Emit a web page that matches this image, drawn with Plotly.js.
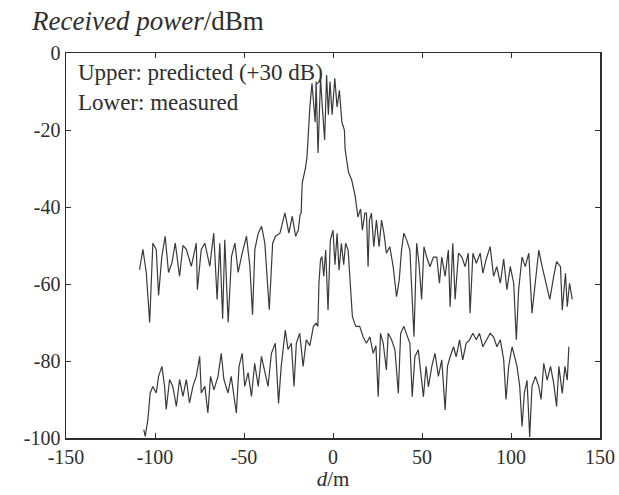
<!DOCTYPE html>
<html>
<head>
<meta charset="utf-8">
<script src="https://cdn.plot.ly/plotly-3.0.1.min.js"></script>
<style>html,body{margin:0;padding:0;background:#fff;}#plot{width:619px;height:495px;}</style>
</head>
<body>
<div id="plot"></div>
<script>
// Upper curve: predicted (+30 dB)
var dUpper = [-108.7,-106.8,-104.9,-103,-101.2,-99.3,-98,-96.2,-94.3,-92.4,-90.5,-88.6,-86.2,-84.3,-82.4,-79.6,-76.8,-76.2,-74,-72,-69.2,-67,-65.1,-63.6,-62,-60.8,-58.9,-57,-55.1,-53.3,-51,-48.6,-46.7,-45.2,-43.9,-42,-40.1,-38.3,-35.8,-33.9,-32.3,-29.8,-27,-24.8,-22.9,-21,-19.5,-18.5,-17.9,-17.3,-15.5,-14.6,-13,-11.8,-10,-9.5,-8.4,-7,-6,-4.7,-3.6,-2.6,-1.7,-0.5,1,2.3,3.6,5,6.4,6.8,8.7,10.5,12.4,14,15.5,16.5,17.9,18.8,19.7,20.5,21.6,22.9,24.4,25.9,27.3,28.6,30,31.9,33.8,35.7,37.2,38.5,39.8,41.4,43.2,45.5,47,48.3,49.8,51.1,52.6,54.5,56.4,58.3,59.8,61.1,63,64.8,65.8,67.3,68.6,70.5,72.4,74.2,76,77,78.6,80.5,82.7,84.2,86.1,88.3,90.2,92,94,95.9,97.7,99.6,101.5,103,104.3,106.2,108,110,111.8,113.7,115.6,117.5,119.4,121.8,124,125.6,127.8,128.8,130.6,131.6,132.9,134.4];
var pUpper = [-56.3,-51,-57,-70,-49.4,-51,-63,-53,-47.6,-57,-54.5,-49.4,-58,-50,-51,-55.4,-49.4,-61.5,-51,-49.4,-55.4,-46.8,-64,-49.4,-69,-48.5,-70,-52.8,-49.4,-57,-52,-47.6,-55.4,-68,-51,-46.8,-45,-49.4,-66.7,-49.4,-47.6,-46.8,-41.5,-46.8,-42.4,-47.6,-46,-42,-41.6,-33.8,-30,-27,-14,-7.9,-18,-7.4,-26,-6.6,-14,-22.6,-5.7,-16,-7.4,-16,-6.6,-14,-9.7,-18,-20,-25,-31,-33,-37,-42.6,-40.5,-46,-41.6,-41.6,-55.5,-43.4,-41.6,-50.3,-43.4,-50.3,-43.4,-46.8,-52,-50.3,-55.5,-63.3,-59,-51.2,-46.8,-48.6,-51.2,-73.7,-49.4,-54.6,-64,-50.3,-53,-55.5,-53,-53,-59.8,-53,-58,-51.2,-65.9,-49.4,-64,-52,-53,-55.5,-52,-67.6,-52,-54.6,-52,-57.2,-53.5,-50.3,-58,-55.5,-59.8,-53.5,-61.5,-55.5,-59.8,-74.5,-61.5,-53,-55.5,-52,-67.6,-59.8,-51.2,-55.5,-59,-64,-58,-54.2,-55.5,-66.8,-57.2,-65.9,-59.8,-64];

// Lower curve: measured
var dLower = [-106.3,-105.5,-104,-102.7,-101.2,-99.3,-98,-96.1,-94.6,-93.7,-91.8,-90,-88,-86.2,-84.3,-82.4,-80.6,-78.7,-76.8,-74.9,-74,-72,-70.3,-68.8,-66.9,-64.6,-62.8,-61.3,-59,-57.2,-54.3,-52.8,-51,-49.6,-47.7,-45.8,-44,-42,-40.2,-38.3,-36.5,-34.6,-32.4,-30.6,-29.1,-26.8,-25.3,-23.4,-21.9,-20.6,-18.7,-16.8,-15,-13,-11,-9.5,-8.5,-7.9,-7,-6.2,-5.2,-4.1,-2.8,-1.5,0,1.1,2.3,3.4,4.7,6,7.1,8.5,9.8,10.9,12.8,15,16.9,18.8,20.7,22.6,24.1,25.4,26.7,28.2,30,31,32.9,34.8,36.7,38,39.8,41.7,43.2,44.5,46,47.9,49.2,50.8,52.3,53.6,55.5,57.3,59.2,61.1,63,64.3,65.8,67.7,69.2,71.1,72.9,74.8,76.7,78.6,80.5,82.3,84.2,86.1,88.3,90.2,92.1,94,95.9,97.2,98.7,100.6,101.9,103.4,104.9,106.2,107.5,109,110.5,111.8,113.7,115.6,116.9,118.4,120.3,122.2,124,125.6,126.9,128.8,130.3,131.6,132.5];
var pLower = [-97.8,-99.6,-95.2,-88.3,-86.6,-88.3,-84,-81.4,-86.6,-92.6,-84.8,-86.6,-91.8,-84.8,-89.2,-84.8,-90.9,-86.6,-84,-78.8,-88.3,-86.6,-93.5,-84,-87.5,-84,-78,-84.8,-88.3,-84,-93.5,-81.4,-78,-86.6,-83,-89.2,-80.6,-86.6,-78.8,-83,-86.6,-78,-75.4,-91,-81.4,-72,-77,-75.4,-86.6,-75.4,-72.8,-81.4,-74.5,-76,-71,-70.2,-71,-59.8,-53.6,-52.9,-58,-51.2,-66.8,-48.6,-46,-55,-46.8,-56.4,-49.4,-55,-49.4,-51.2,-59.8,-68.5,-71,-71,-73.7,-75.4,-73.7,-78,-76,-89.3,-72.8,-75.4,-82.3,-72.8,-74.5,-77.1,-88.4,-72.8,-71,-73.7,-75.4,-89.3,-78.9,-77.1,-83.2,-89.3,-81.4,-86.7,-81.4,-78,-84,-79.7,-92.7,-81.4,-78.9,-76.3,-78.9,-74.5,-79.7,-75.4,-74.5,-72.8,-74.5,-72.8,-76.3,-74.5,-72.8,-73.7,-76.3,-74.5,-79.7,-90,-81.4,-76.3,-78.9,-81.4,-86.6,-97,-88.3,-85,-99.7,-86.6,-84,-86.6,-90,-80.6,-85,-81.4,-85.8,-91.8,-81.4,-88.4,-81.4,-85,-76.3];

var xTicks = [-150,-100,-50,0,50,100,150];
var xTickText = ['-150','-100','-50','0','50','100','150'];
var yTicks = [-100,-80,-60,-40,-20,0];
var yTickText = ['-100','-80','-60','-40','-20','0'];

var FONT = 'Liberation Serif, Times New Roman, serif';
var INK = '#2e2e2e';

var lineStyle = {color: '#3a3a3a', width: 1.2};
var traces = [
  {x: dUpper, y: pUpper, mode: 'lines', line: lineStyle, hoverinfo: 'skip', showlegend: false},
  {x: dLower, y: pLower, mode: 'lines', line: lineStyle, hoverinfo: 'skip', showlegend: false}
];

var axisCommon = {
  showgrid: false, zeroline: false, showline: true, linecolor: INK, linewidth: 1.5,
  mirror: 'ticks', ticks: 'inside', ticklen: 5, tickwidth: 1, tickcolor: INK,
  tickfont: {family: FONT, size: 20, color: INK}, fixedrange: true
};

var layout = {
  width: 619, height: 495,
  margin: {l: 66, r: 19, t: 53, b: 57},
  paper_bgcolor: '#fff', plot_bgcolor: '#fff',
  xaxis: Object.assign({}, axisCommon, {
    range: [-150, 150], tickmode: 'array', tickvals: xTicks, ticktext: xTickText,
    title: {text: '<i>d</i>/m', font: {family: FONT, size: 21, color: INK}, standoff: 0}
  }),
  yaxis: Object.assign({}, axisCommon, {
    range: [-100, 0], tickmode: 'array', tickvals: yTicks, ticktext: yTickText,
    title: {text: ''}
  }),
  annotations: [
    {xref: 'paper', yref: 'paper', x: -0.069, y: (438 - 21) / 385, xanchor: 'left', yanchor: 'middle',
     text: '<i>Received power</i>/dBm', showarrow: false, font: {family: FONT, size: 27, color: INK}},
    {xref: 'paper', yref: 'paper', x: 0.0185, y: (438 - 87) / 385, xanchor: 'left', yanchor: 'middle',
     align: 'left', text: 'Upper: predicted (+30 dB)<br>Lower: measured', showarrow: false,
     font: {family: FONT, size: 23, color: INK}}
  ]
};

Plotly.newPlot('plot', traces, layout, {staticPlot: true, displayModeBar: false});
</script>
</body>
</html>
